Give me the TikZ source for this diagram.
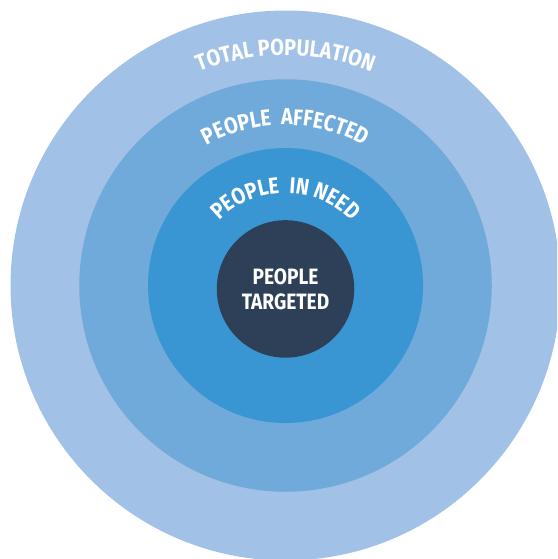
\documentclass[tikz,border=0pt]{standalone}
\usepackage{fontspec}
\newfontfamily\ringfont[FakeStretch=0.86]{Fira Sans}
\usetikzlibrary{decorations.text}
\definecolor{totalblue}{RGB}{161,194,230}
\definecolor{affectedblue}{RGB}{112,170,219}
\definecolor{needblue}{RGB}{57,150,211}
\definecolor{targetnavy}{RGB}{46,64,87}
\newcommand{\ringlabel}{\ringfont\bfseries\fontsize{9.5}{9.5}\selectfont\color{white}}
\tikzset{
  ring/.style={circle, inner sep=0pt, draw=none},
  arclabel/.style={decorate, decoration={text along path, text align=center, text={|\ringlabel|#1}}}
}

\begin{document}
\begin{tikzpicture}
      \useasboundingbox (-4.153,-3.978) rectangle (3.949,4.153);
      \clip (-4.153,-3.978) rectangle (3.949,4.153);
      % nested circles
      \node[ring, fill=totalblue, minimum size=8cm] (total) at (0,0) {};
      \node[ring, fill=affectedblue, minimum size=6cm] (affected) at (0,0) {};
      \node[ring, fill=needblue, minimum size=4cm] (need) at (0,0) {};
      \node[ring, fill=targetnavy, minimum size=2cm, text=white, align=center,
            font=\ringfont\bfseries\fontsize{9.2}{10.4}\selectfont] (targeted) at (0,-0.05) {PEOPLE\\TARGETED};
      % curved labels
      \path[arclabel={TOTAL POPULATION}] (180:3.35) arc[start angle=180, end angle=0, radius=3.35];
      \path[arclabel={PEOPLE{\ }{\ }AFFECTED}] (180:2.335) arc[start angle=180, end angle=0, radius=2.335];
      \path[arclabel={PEOPLE{\ }{\ }IN NEED}] (180:1.345) arc[start angle=180, end angle=0, radius=1.345];
    \end{tikzpicture}
\end{document}
